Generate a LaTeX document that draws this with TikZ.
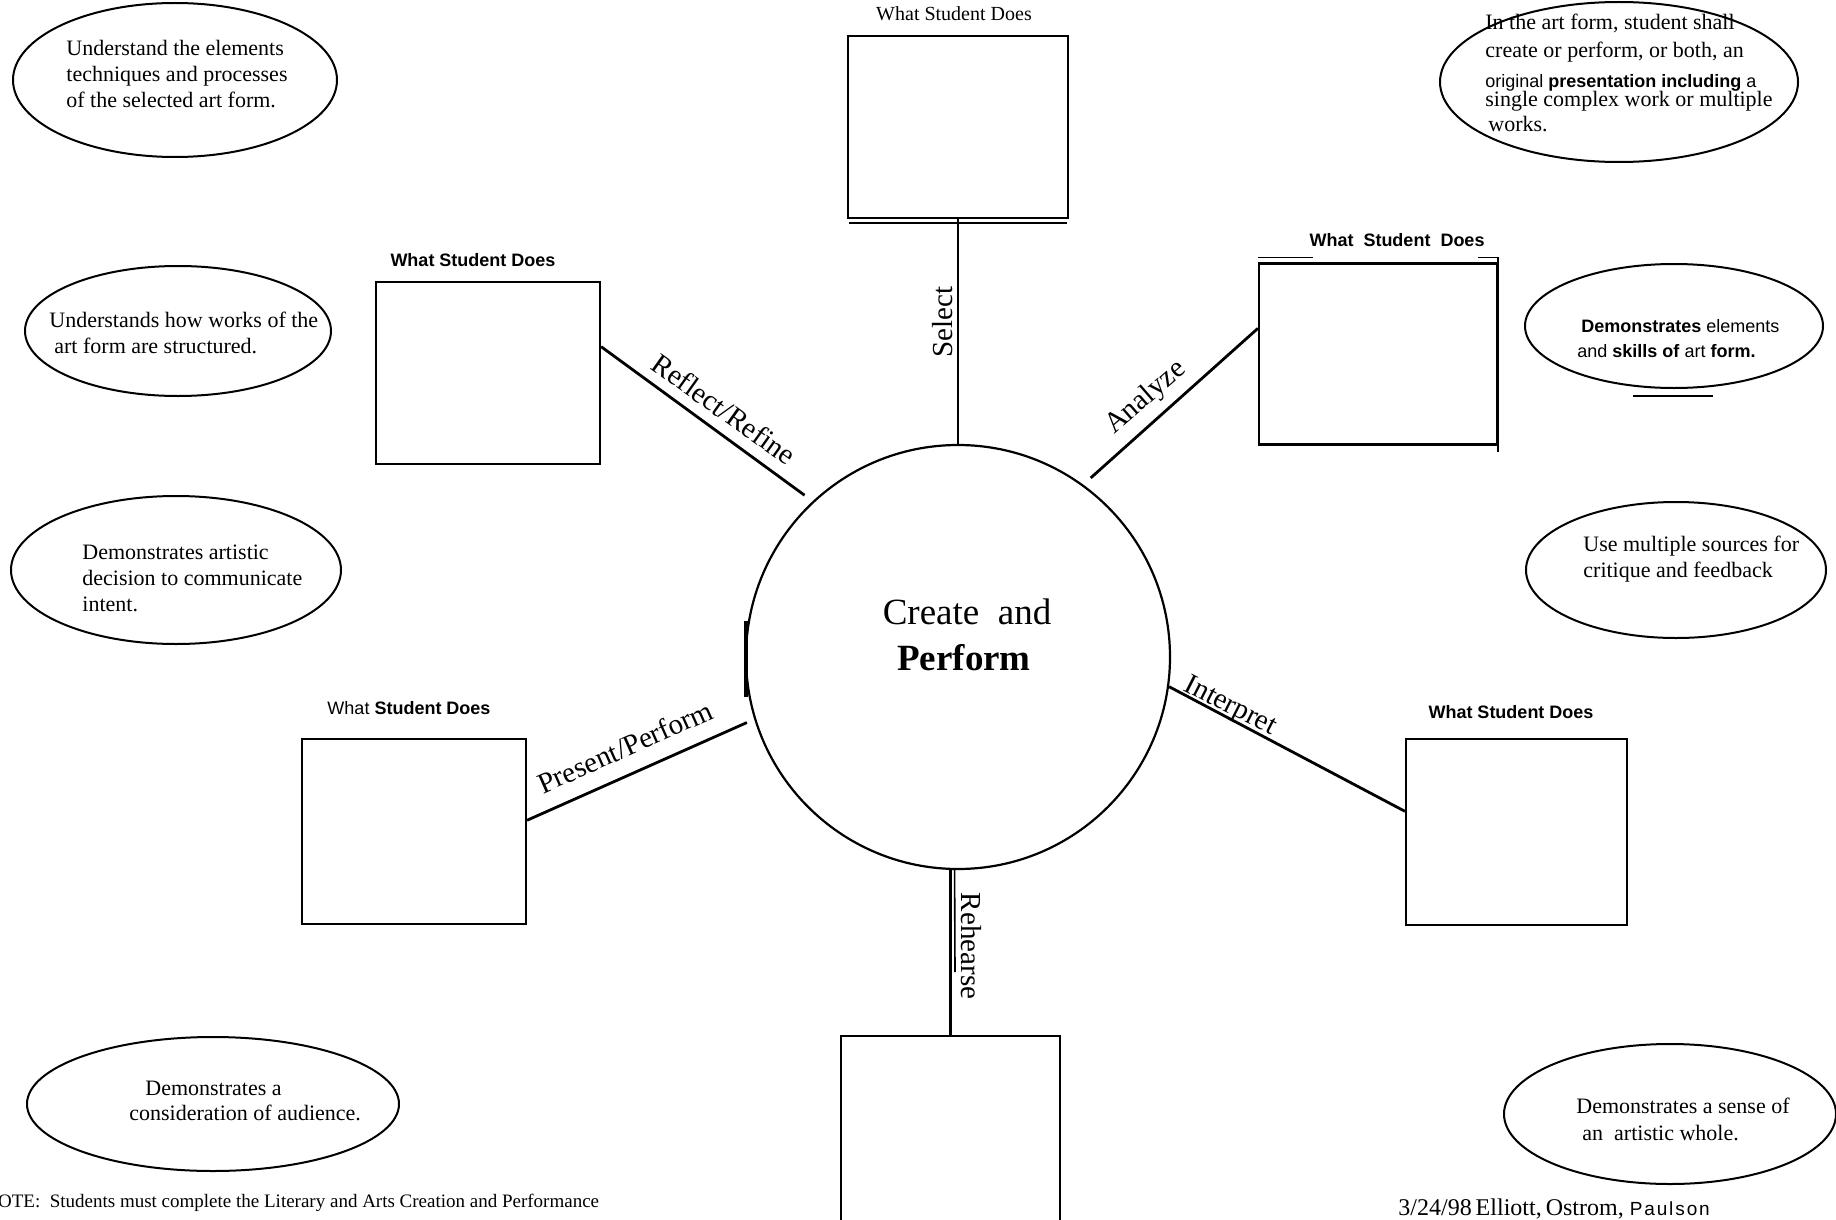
\documentclass[tikz,border=0pt]{standalone}
\usepackage{fontspec}
\setmainfont{Liberation Serif}
\setsansfont{Liberation Sans}
\usetikzlibrary{shapes.geometric,calc}
\begin{document}
\begin{tikzpicture}[x=0.5pt,y=-0.5pt,
  ell/.style={draw,ellipse,line width=1pt,inner sep=0pt},
  sbox/.style={draw,rectangle,line width=1.1pt,inner sep=0pt},
  conn/.style={line width=1.4pt},
  etext/.style={font=\fontsize{11}{13}\selectfont,anchor=base west,inner sep=0pt},
  stext/.style={font=\sffamily\fontsize{9}{11}\selectfont,anchor=base west,inner sep=0pt},
  wsd/.style={font=\sffamily\bfseries\fontsize{9}{11}\selectfont,anchor=base,inner sep=0pt},
  lab/.style={font=\fontsize{14.5}{16}\selectfont,inner sep=0pt},
  stroke/.style={line width=0.8pt},
]
\useasboundingbox (0,0) rectangle (1836,1220);
\clip (0,0) rectangle (1836,1220);

% central circle
\node[draw,circle,line width=1.1pt,minimum size=212pt,inner sep=0pt] (c) at (958,657) {};
\node[font=\fontsize{18.5}{20}\selectfont,anchor=base] (ct1) at (967,624) {Create\ \ and};
\node[font=\bfseries\fontsize{18.5}{20}\selectfont,anchor=base] (ct2) at (964,670) {Perform};

% boxes
\node[sbox,minimum width=110pt,minimum height=91pt] (t) at (958,127) {};
\node[sbox,minimum width=112pt,minimum height=91pt] (r1) at (488,373) {};
\node[sbox,minimum width=119pt,minimum height=90.5pt] (a1) at (1378,354) {};
\node[sbox,minimum width=110.5pt,minimum height=93pt] (i1) at (1516.5,832) {};
\node[sbox,minimum width=112pt,minimum height=92.5pt] (p1) at (414,831.5) {};
\node[sbox,minimum width=109.5pt,minimum height=110pt] (b) at (950.5,1146) {};

% box titles
\node[font=\fontsize{10}{12}\selectfont,anchor=base,inner sep=0pt] (tt) at (954,21) {What Student Does};
\node[wsd] (tr1) at (473,266) {What Student Does};
\node[wsd] (ta1) at (1397,246) {What\ \ Student\ \ Does};
\node[wsd] (ti1) at (1511,718) {What Student Does};
\node[wsd] (tp1) at (409,714) {\mdseries What \bfseries Student Does};

% connectors
\draw[conn] (t.south) -- (c.north);
\draw[conn,shorten >=5pt] ($(r1.north east)!0.357!(r1.south east)$) -- (c.133);
\draw[conn,shorten >=5pt] ($(a1.north west)!0.36!(a1.south west)$) -- (c.54);
\draw[conn] (c.-8) -- ($(i1.north west)!0.39!(i1.south west)$);
\draw[conn,shorten >=4pt] ($(p1.north east)!0.44!(p1.south east)$) -- (c.197);
\draw[conn] (c.-92) -- (b.north);

% connector labels
\node[lab,rotate=90] (ls) at (943,322) {Select};
\node[lab,rotate=-35.5] (lr) at (724,409) {Reflect/Refine};
\node[lab,rotate=41] (la) at (1146,398) {Analyze};
\node[lab,rotate=-27] (li) at (1230,707) {Interpret};
\node[lab,rotate=24] (lp) at (625,747) {Present/Perform};
\node[lab,rotate=-90] (lh) at (971,946) {Rehearse};

% small extra strokes
\draw[stroke] ($(t.south west)+(2,4)$) -- ($(t.south east)+(-2,4)$);
\draw[stroke] ($(a1.north west)+(0,-5)$) -- ($(a1.north west)+(55,-5)$);
\draw[stroke] ($(a1.north east)+(-20,-5)$) -- ($(a1.north east)+(0,-5)$) -- ($(a1.south east)+(0,6)$);
\draw[line width=2pt] (746,621) -- (746,697);
\draw[stroke] ($(c.-92)+(4,0)$) -- (955,972);
\draw[stroke] (1633,396) -- (1713,396);

% ellipses
\node[ell,minimum width=162pt,minimum height=77pt] (e1) at (175,80) {};
\node[ell,minimum width=179pt,minimum height=80pt] (e2) at (1619,82) {};
\node[ell,minimum width=153pt,minimum height=65pt] (e3) at (178,331) {};
\node[ell,minimum width=149pt,minimum height=62pt] (e4) at (1674,326) {};
\node[ell,minimum width=165pt,minimum height=74pt] (e5) at (176,570) {};
\node[ell,minimum width=150pt,minimum height=68pt] (e6) at (1676,570) {};
\node[ell,minimum width=186pt,minimum height=67pt] (e7) at (213,1104) {};
\node[ell,minimum width=166pt,minimum height=70pt] (e8) at (1670,1114) {};

% ellipse texts
\node[etext] (x1a) at (66,56) {Understand the elements};
\node[etext] (x1b) at (66,82) {techniques and processes};
\node[etext] (x1c) at (66,108) {of the selected art form.};

\node[etext] (x2a) at (1485,30) {In the art form, student shall};
\node[etext] (x2b) at (1485,58) {create or perform, or both, an};
\node[stext] (x2c) at (1485,88) {original \textbf{presentation\ including} a};
\node[etext] (x2d) at (1485,107) {single complex work or multiple};
\node[etext] (x2e) at (1488,132) {works.};

\node[etext] (x3a) at (49,327) {Understands how works of the};
\node[etext] (x3b) at (54,353) {art form are structured.};

\node[stext] (x4a) at (1581,332) {\textbf{Demonstrates} elements};
\node[stext] (x4b) at (1577,357) {and \textbf{skills of} art \textbf{form.}};

\node[etext] (x5a) at (82,559) {Demonstrates artistic};
\node[etext] (x5b) at (82,585) {decision to communicate};
\node[etext] (x5c) at (82,611) {intent.};

\node[etext] (x6a) at (1583,551) {Use multiple sources for};
\node[etext] (x6b) at (1583,577) {critique and feedback};

\node[etext] (x7a) at (145,1095) {Demonstrates a};
\node[etext] (x7b) at (129,1120) {consideration of audience.};

\node[etext] (x8a) at (1576,1113) {Demonstrates a sense of};
\node[etext] (x8b) at (1582,1140) {an\ \ artistic whole.};

% footer
\node[font=\fontsize{9.5}{11}\selectfont,anchor=base west,inner sep=0pt] (note) at (-16,1207) {NOTE:\ \ Students must complete the Literary and Arts Creation and Performance};
\node[anchor=base west,inner sep=0pt] (sig) at (1398,1215) {\fontsize{12}{14}\selectfont 3/24/98\,Elliott,\,Ostrom,\ \sffamily\fontsize{9.5}{11}\selectfont\addfontfeatures{LetterSpace=10}Paulson};
\end{tikzpicture}
\end{document}
